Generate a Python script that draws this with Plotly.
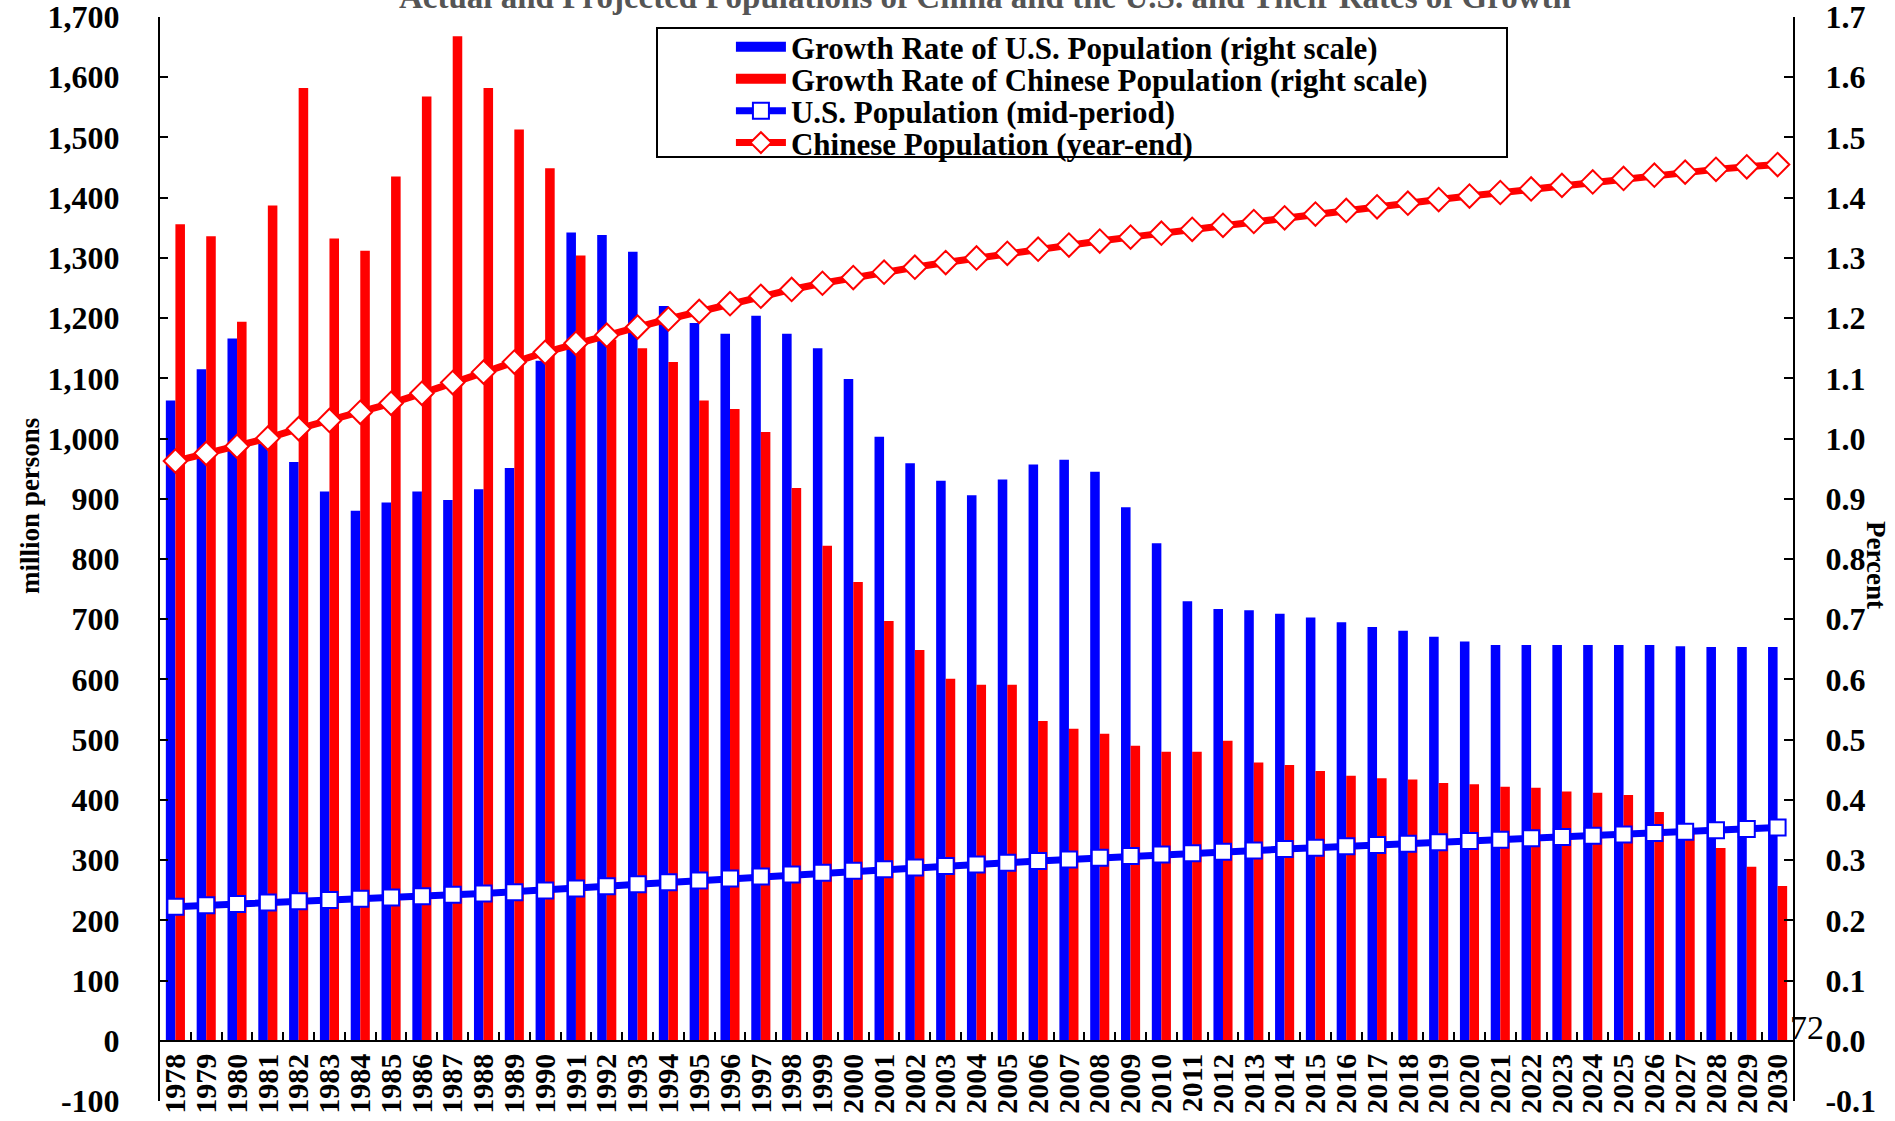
import plotly.graph_objects as go

# Categories: calendar years
years = ["1978", "1979", "1980", "1981", "1982", "1983", "1984", "1985", "1986", "1987",
         "1988", "1989", "1990", "1991", "1992", "1993", "1994", "1995", "1996", "1997",
         "1998", "1999", "2000", "2001", "2002", "2003", "2004", "2005", "2006", "2007",
         "2008", "2009", "2010", "2011", "2012", "2013", "2014", "2015", "2016", "2017",
         "2018", "2019", "2020", "2021", "2022", "2023", "2024", "2025", "2026", "2027",
         "2028", "2029", "2030"]

# Annual growth rates, percent (right scale)
us_growth = [1.063, 1.115, 1.166, 0.991, 0.961, 0.912, 0.880, 0.894, 0.912, 0.898, 0.916, 0.951,
             1.129, 1.342, 1.338, 1.310, 1.220, 1.192, 1.174, 1.204, 1.174, 1.150,
             1.099, 1.003, 0.959, 0.930, 0.906, 0.932, 0.957, 0.965, 0.945, 0.886,
             0.826, 0.730, 0.717, 0.715, 0.709, 0.703, 0.695, 0.687, 0.681, 0.671,
             0.663, 0.657, 0.657, 0.657, 0.657, 0.657, 0.657, 0.655, 0.654, 0.654, 0.654]
cn_growth = [1.356, 1.336, 1.194, 1.387, 1.582, 1.332, 1.312, 1.435, 1.568, 1.668, 1.582, 1.513,
             1.449, 1.304, 1.164, 1.150, 1.127, 1.063, 1.049, 1.011, 0.918, 0.822,
             0.762, 0.697, 0.649, 0.601, 0.591, 0.591, 0.531, 0.518, 0.510, 0.490,
             0.480, 0.480, 0.498, 0.462, 0.458, 0.448, 0.440, 0.436, 0.434, 0.428,
             0.426, 0.422, 0.420, 0.414, 0.412, 0.408, 0.380, 0.345, 0.320, 0.289, 0.257]

# Population levels, million persons (left scale)
us_pop = [222.6, 225.1, 227.2, 229.5, 231.7, 233.8, 235.8, 237.9, 240.1, 242.3, 244.5, 246.8,
          249.6, 253.0, 256.5, 259.9, 263.1, 266.3, 269.4, 272.6, 275.9, 279.0,
          282.2, 285.0, 287.6, 290.1, 292.8, 295.5, 298.4, 301.2, 304.1, 306.8,
          309.3, 311.6, 313.9, 316.1, 318.4, 320.6, 322.9, 325.1, 327.3, 329.5,
          331.7, 333.9, 336.1, 338.3, 340.5, 342.7, 345.0, 347.2, 349.5, 351.8, 354.1]
cn_pop = [962.6, 975.4, 987.1, 1000.7, 1016.5, 1030.1, 1043.6, 1058.5, 1075.1, 1093.0, 1110.3, 1127.0,
          1143.3, 1158.2, 1171.7, 1185.2, 1198.5, 1211.2, 1223.9, 1236.3, 1247.6, 1257.9,
          1267.4, 1276.3, 1284.5, 1292.3, 1299.9, 1307.6, 1314.5, 1321.3, 1328.0, 1334.5,
          1341.0, 1347.4, 1354.1, 1360.4, 1366.6, 1372.7, 1378.8, 1384.8, 1390.8, 1396.8,
          1402.7, 1408.6, 1414.5, 1420.4, 1426.2, 1432.0, 1437.4, 1442.4, 1447.0, 1451.2, 1455.0]

# Tick values and labels for both vertical scales
left_ticks = [-100, 0, 100, 200, 300, 400, 500, 600, 700, 800, 900, 1000,
              1100, 1200, 1300, 1400, 1500, 1600, 1700]
left_labels = ["-100", "0", "100", "200", "300", "400", "500", "600", "700", "800", "900",
               "1,000", "1,100", "1,200", "1,300", "1,400", "1,500", "1,600", "1,700"]
right_ticks = [-0.1, 0.0, 0.1, 0.2, 0.3, 0.4, 0.5, 0.6, 0.7, 0.8, 0.9, 1.0,
               1.1, 1.2, 1.3, 1.4, 1.5, 1.6, 1.7]
right_labels = ["-0.1", "0.0", "0.1", "0.2", "0.3", "0.4", "0.5", "0.6", "0.7", "0.8", "0.9",
                "1.0", "1.1", "1.2", "1.3", "1.4", "1.5", "1.6", "1.7"]

BLUE = "#0000FF"
RED = "#FF0000"
SERIF = "Liberation Serif, Times New Roman, serif"

fig = go.Figure()

# Growth-rate bars (percent axis, drawn underneath)
fig.add_trace(go.Bar(x=years, y=us_growth, name="Growth Rate of U.S. Population (right scale)",
                     marker=dict(color=BLUE, line=dict(width=0)), yaxis="y",
                     legendgroup="usg", showlegend=False))
fig.add_trace(go.Bar(x=years, y=cn_growth, name="Growth Rate of Chinese Population (right scale)",
                     marker=dict(color=RED, line=dict(width=0)), yaxis="y",
                     legendgroup="cng", showlegend=False))

# Legend keys for the bars, shown as wide colour blocks
fig.add_trace(go.Scatter(x=[years[0]], y=[None], mode="lines", yaxis="y2",
                         line=dict(color=BLUE, width=14), legendgroup="usg", legend="legend",
                         name="Growth Rate of U.S. Population (right scale)"))
fig.add_trace(go.Scatter(x=[years[0]], y=[None], mode="lines", yaxis="y2",
                         line=dict(color=RED, width=14), legendgroup="cng", legend="legend2",
                         name="Growth Rate of Chinese Population (right scale)"))

# Population lines (million persons axis, drawn on top)
fig.add_trace(go.Scatter(x=years, y=us_pop, name="U.S. Population (mid-period)", yaxis="y2",
                         mode="lines+markers", legend="legend3",
                         line=dict(color=BLUE, width=7),
                         marker=dict(symbol="square", size=16, color="white",
                                     line=dict(color=BLUE, width=2))))
fig.add_trace(go.Scatter(x=years, y=cn_pop, name="Chinese Population (year-end)", yaxis="y2",
                         mode="lines+markers", legend="legend4",
                         line=dict(color=RED, width=7),
                         marker=dict(symbol="diamond", size=18, color="white",
                                     line=dict(color=RED, width=2))))

zero_pos = 100 / 1800  # where 0 sits on a -100..1700 scale

# One legend per entry so the rows sit close together inside a shared frame
legend_x = 0.3043
legend_rows = [0.9723, 0.9428, 0.9133, 0.8838]
legend_style = dict(x=legend_x, xanchor="left", yanchor="middle",
                    bgcolor="rgba(0,0,0,0)", borderwidth=0,
                    font=dict(family=SERIF, size=31, weight="bold", color="black"),
                    itemwidth=50, indentation=74)

fig.update_layout(
    width=1895, height=1121,
    margin=dict(l=160, r=102, t=17, b=20),
    paper_bgcolor="white", plot_bgcolor="white",
    barmode="group", bargap=0.38, bargroupgap=0.0,
    font=dict(family=SERIF, color="black", size=24),
    xaxis=dict(type="category", anchor="free", position=zero_pos,
               range=[-0.5, len(years) - 0.5], automargin=False,
               tickmode="linear", tick0=0, dtick=1,
               showline=True, linecolor="black", linewidth=2,
               ticks="inside", ticklen=8, tickwidth=2, tickcolor="black",
               tickson="boundaries", tickangle=-90,
               tickfont=dict(family=SERIF, size=30, weight="bold", color="black"),
               showgrid=False, zeroline=False),
    yaxis=dict(range=[-0.1, 1.7], side="right", tickmode="array",
               tickvals=right_ticks, ticktext=right_labels, automargin=False,
               ticklabeloverflow="allow",
               showline=True, linecolor="black", linewidth=2,
               ticks="inside", ticklen=9, tickwidth=2, tickcolor="black",
               tickfont=dict(family=SERIF, size=32, weight="bold", color="black"),
               ticklabelstandoff=24,
               showgrid=False, zeroline=False),
    yaxis2=dict(range=[-100, 1700], side="left", overlaying="y", tickmode="array",
                tickvals=left_ticks, ticktext=left_labels, automargin=False,
                ticklabeloverflow="allow",
                showline=True, linecolor="black", linewidth=2,
                ticks="inside", ticklen=8, tickwidth=2, tickcolor="black",
                tickfont=dict(family=SERIF, size=32, weight="bold", color="black"),
                ticklabelstandoff=32,
                showgrid=False, zeroline=False),
    legend=dict(y=legend_rows[0], **legend_style),
    legend2=dict(y=legend_rows[1], **legend_style),
    legend3=dict(y=legend_rows[2], **legend_style),
    legend4=dict(y=legend_rows[3], **legend_style),
    shapes=[
        # frame around the legend rows
        dict(type="rect", xref="paper", yref="paper",
             x0=0.30435, x1=0.82486, y0=0.87085, y1=0.98985,
             line=dict(color="black", width=2), fillcolor="white", layer="above"),
    ],
    annotations=[
        dict(text="Actual and Projected Populations of China and the U.S. and Their Rates of Growth",
             xref="paper", yref="paper", x=0.505, y=1.0, xanchor="center", yanchor="bottom",
             showarrow=False, font=dict(family=SERIF, size=33, weight="bold", color="#555555")),
        dict(text="million persons", xref="paper", yref="paper", x=-0.0796, y=0.549,
             xanchor="center", yanchor="middle", textangle=-90, showarrow=False,
             font=dict(family=SERIF, size=27, weight="bold", color="black")),
        dict(text="Percent", xref="paper", yref="paper", x=1.0508, y=0.4945,
             xanchor="center", yanchor="middle", textangle=90, showarrow=False,
             font=dict(family=SERIF, size=27, weight="bold", color="black")),
        dict(text="72", xref="paper", yref="paper", x=1.0085, y=0.068,
             xanchor="center", yanchor="middle", showarrow=False,
             font=dict(family=SERIF, size=34, color="black")),
    ],
)

fig.write_html("out.html")
